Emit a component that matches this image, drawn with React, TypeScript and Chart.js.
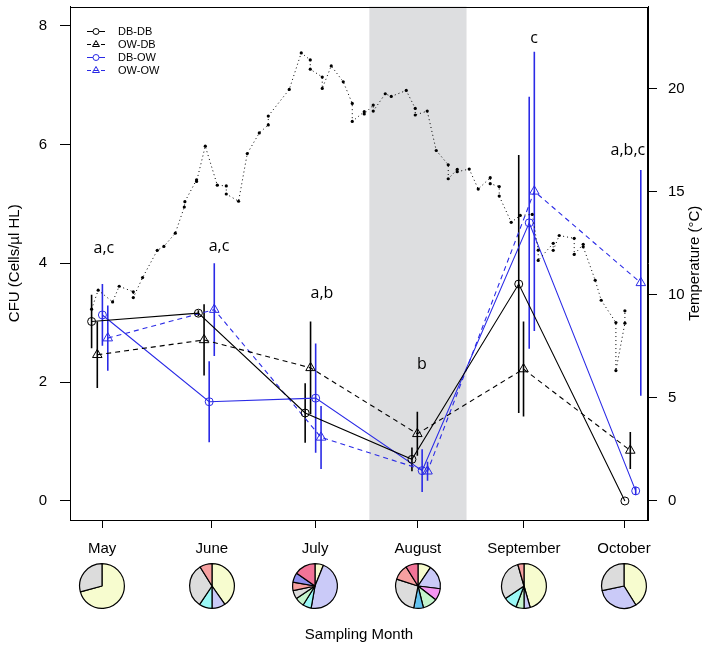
import React, { useEffect, useRef } from 'react';
import { Chart, registerables } from 'chart.js';
Chart.register(...registerables);

const FONT = "'Liberation Sans', Arial, Helvetica, sans-serif";

// x axis: sampling day (days from start of the axis)
const monthNames = ['May', 'June', 'July', 'August', 'September', 'October'];
const monthTicks = [10.7, 47.3, 81.7, 116.0, 151.3, 184.7];
const cfuTicks = [0, 2, 4, 6, 8];
const tempTicks = [0, 5, 10, 15, 20];
const shadeStart = 99.8;
const shadeEnd = 132.2;

// CFU series (Cells/µl HL)
const dbdbX = [7.2, 42.8, 78.4, 114.0, 149.6, 185.0];
const dbdbY = [3.02, 3.16, 1.48, 0.70, 3.65, 0.0];
const dbdbErr = [0.45, 0.05, 0.50, 0.20, 2.17, 0.0];

const owdbX = [9.1, 44.7, 80.2, 115.8, 151.2, 186.8];
const owdbY = [2.46, 2.71, 2.24, 1.13, 2.22, 0.85];
const owdbErr = [0.56, 0.60, 0.78, 0.37, 0.80, 0.31];

const dbowX = [10.8, 46.4, 81.9, 117.4, 153.1, 188.6];
const dbowY = [3.13, 1.67, 1.73, 0.51, 4.68, 0.17];
const dbowErr = [0.52, 0.68, 0.92, 0.36, 2.12, 0.07];

const owowX = [12.6, 48.1, 83.7, 119.2, 154.8, 190.3];
const owowY = [2.74, 3.22, 1.07, 0.50, 5.21, 3.67];
const owowErr = [0.55, 0.78, 0.53, 0.16, 2.35, 1.90];

// temperature (°C)
const tempDay = [7.2, 9.4, 14.2, 16.4, 21.1, 21.1, 24.2, 29.1, 31.3, 35.1, 38.1, 38.3, 42.2, 42.2, 45.1, 49.1, 52.1, 52.1, 56.2, 59.1, 63.1, 66.1, 66.1, 73.1, 77.1, 80.1, 80.1, 84.1, 84.1, 87.1, 91.1, 94.1, 94.1, 98.1, 98.1, 101.1, 101.1, 105.1, 107.1, 112.1, 115.1, 115.1, 119.1, 122.1, 126.1, 126.1, 129.1, 129.1, 133.1, 136.1, 140.1, 140.1, 143.1, 143.1, 147.1, 150.1, 154.1, 156.1, 156.1, 161.1, 161.1, 163.1, 168.1, 168.1, 171.1, 171.1, 175.1, 177.1, 182.0, 182.0, 185.0, 185.0];
const tempC = [9.30, 10.22, 9.65, 10.41, 10.14, 9.86, 10.83, 12.15, 12.34, 12.98, 14.25, 14.51, 15.57, 15.49, 17.2, 15.31, 15.27, 14.88, 14.53, 16.84, 17.84, 18.23, 18.66, 19.95, 21.72, 21.38, 20.93, 20.55, 20.0, 21.09, 20.32, 19.27, 18.4, 18.87, 18.76, 19.19, 18.9, 19.74, 19.61, 19.9, 19.03, 18.71, 18.9, 16.99, 16.3, 15.62, 16.07, 15.96, 16.09, 15.12, 15.67, 15.38, 15.24, 14.78, 13.51, 13.84, 13.89, 12.16, 11.66, 12.49, 12.15, 12.87, 12.73, 11.95, 12.44, 12.32, 10.7, 9.73, 8.65, 6.32, 8.62, 9.22];

// significance letters
const sigLabels = ['a,c', 'a,c', 'a,b', 'b', 'c', 'a,b,c'];
const sigX = [11.3, 49.7, 84.0, 117.3, 154.7, 186.0];
const sigY = [4.25, 4.29, 3.50, 2.29, 7.79, 5.90];

// community composition pies (slice sizes, clockwise from 12 o'clock)
const pieMayTaxa = ['yellow', 'gray'];
const pieMayVals = [255, 105];
const pieJunTaxa = ['yellow', 'lavender', 'cyan', 'gray', 'salmon'];
const pieJunVals = [145, 35, 34, 114, 32];
const pieJulTaxa = ['yellow', 'lavender', 'cyan', 'green', 'gray', 'salmon', 'violet', 'hotpink'];
const pieJulVals = [22, 168, 22, 24, 22, 22, 25, 55];
const pieAugTaxa = ['yellow', 'lavender', 'magenta', 'green', 'blue', 'gray', 'salmon', 'hotpink'];
const pieAugVals = [34, 63, 31, 38, 25, 97, 40, 32];
const pieSepTaxa = ['yellow', 'lavender', 'green', 'cyan', 'gray', 'salmon'];
const pieSepVals = [164, 16, 21, 35, 108, 16];
const pieOctTaxa = ['yellow', 'lavender', 'gray'];
const pieOctVals = [148, 110, 102];

const pieColors: Record<string, string> = {
  yellow: '#F7FCCF', gray: '#DCDCDC', lavender: '#CACAF8', cyan: '#9AF8F6', salmon: '#F6A0A0',
  hotpink: '#F27497', violet: '#8E8EEE', green: '#C4F4CC', magenta: '#F595F2', blue: '#62C2F0',
};

const BLACK = '#000000';
const BLUE = '#2A2AE6';

const pies = [
  [pieMayTaxa, pieMayVals], [pieJunTaxa, pieJunVals], [pieJulTaxa, pieJulVals],
  [pieAugTaxa, pieAugVals], [pieSepTaxa, pieSepVals], [pieOctTaxa, pieOctVals],
] as [string[], number[]][];

function pts(xs: number[], ys: number[]) {
  return xs.map((x, i) => ({ x, y: ys[i] }));
}
function errPts(xs: number[], ys: number[], es: number[]) {
  const out: any[] = [];
  xs.forEach((x, i) => {
    out.push({ x, y: ys[i] - es[i] });
    out.push({ x, y: ys[i] + es[i] });
    out.push({ x, y: null });
  });
  return out;
}

const legendItems = [
  { name: 'DB-DB', color: BLACK, dash: [] as number[], tri: false },
  { name: 'OW-DB', color: BLACK, dash: [4, 3], tri: true },
  { name: 'DB-OW', color: BLUE, dash: [] as number[], tri: false },
  { name: 'OW-OW', color: BLUE, dash: [4, 3], tri: true },
];

function drawTri(ctx: CanvasRenderingContext2D, x: number, y: number, r: number) {
  ctx.beginPath();
  for (let k = 0; k < 3; k++) {
    const a = -Math.PI / 2 + k * (2 * Math.PI / 3);
    const px = x + Math.cos(a) * r, py = y + Math.sin(a) * r;
    if (k === 0) ctx.moveTo(px, py); else ctx.lineTo(px, py);
  }
  ctx.closePath();
  ctx.stroke();
}

const decorPlugin = {
  id: 'decor',
  beforeDatasetsDraw(chart: any) {
    const { ctx, chartArea, scales } = chart;
    const x0 = scales.x.getPixelForValue(shadeStart);
    const x1 = scales.x.getPixelForValue(shadeEnd);
    ctx.save();
    ctx.fillStyle = '#DDDEE0';
    ctx.fillRect(x0, chartArea.top, x1 - x0, chartArea.bottom - chartArea.top);
    ctx.restore();
  },
  afterDatasetsDraw(chart: any) {
    const { ctx, scales } = chart;
    ctx.save();
    ctx.fillStyle = '#000';
    ctx.font = "16px 'Open Sans', 'DejaVu Sans', sans-serif";
    ctx.textAlign = 'center';
    ctx.textBaseline = 'middle';
    sigLabels.forEach((t, i) => {
      ctx.fillText(t, scales.x.getPixelForValue(sigX[i]), scales.y.getPixelForValue(sigY[i]));
    });
    ctx.restore();
  },
  afterDraw(chart: any) {
    const { ctx, chartArea } = chart;
    ctx.save();
    ctx.strokeStyle = '#000';
    ctx.lineWidth = 1;
    ctx.strokeRect(Math.round(chartArea.left) + 0.5, Math.round(chartArea.top) + 0.5,
      Math.round(chartArea.right - chartArea.left) - 1, Math.round(chartArea.bottom - chartArea.top) - 1);
    // legend
    legendItems.forEach((it, i) => {
      const y = chartArea.top + 25 + i * 13;
      const xa = chartArea.left + 17, xb = chartArea.left + 35, xm = (xa + xb) / 2;
      ctx.strokeStyle = it.color;
      ctx.lineWidth = 1;
      ctx.setLineDash(it.dash);
      ctx.beginPath(); ctx.moveTo(xa, y); ctx.lineTo(xb, y); ctx.stroke();
      ctx.setLineDash([]);
      ctx.fillStyle = '#fff';
      if (it.tri) {
        drawTri(ctx, xm, y, 4);
      } else {
        ctx.beginPath(); ctx.arc(xm, y, 3, 0, Math.PI * 2); ctx.fill(); ctx.stroke();
      }
      ctx.fillStyle = '#000';
      ctx.font = `11px ${FONT}`;
      ctx.textAlign = 'left';
      ctx.textBaseline = 'middle';
      ctx.fillText(it.name, chartArea.left + 48, y);
    });
    // right axis title (reads bottom to top)
    ctx.save();
    ctx.translate(695, (chartArea.top + chartArea.bottom) / 2);
    ctx.rotate(-Math.PI / 2);
    ctx.font = `15px ${FONT}`;
    ctx.fillStyle = '#000';
    ctx.textAlign = 'center';
    ctx.textBaseline = 'middle';
    ctx.fillText('Temperature (°C)', 0, 0);
    ctx.restore();
    ctx.restore();
  },
};

export default function App() {
  const mainRef = useRef<HTMLCanvasElement>(null);
  const pieRefs = useRef<(HTMLCanvasElement | null)[]>([]);

  useEffect(() => {
    const charts: Chart[] = [];
    const tickFont = { family: FONT, size: 15 };
    const main = new Chart(mainRef.current!, {
      type: 'line',
      data: {
        datasets: [
          { label: 'Temperature', yAxisID: 'y2', data: pts(tempDay, tempC), borderColor: '#000', borderWidth: 1, borderDash: [1, 3], pointRadius: 1.6, pointBackgroundColor: '#000', pointBorderWidth: 0, tension: 0 } as any,
          { label: 'DB-DB', data: pts(dbdbX, dbdbY), borderColor: BLACK, borderWidth: 1.1, pointStyle: 'circle', pointRadius: 4, pointBorderWidth: 1, pointBorderColor: BLACK, pointBackgroundColor: 'rgba(0,0,0,0)' },
          { label: 'OW-DB', data: pts(owdbX, owdbY), borderColor: BLACK, borderWidth: 1.1, borderDash: [5, 4], pointStyle: 'triangle', pointRadius: 5.5, pointBorderWidth: 1, pointBorderColor: BLACK, pointBackgroundColor: 'rgba(0,0,0,0)' },
          { label: 'DB-OW', data: pts(dbowX, dbowY), borderColor: BLUE, borderWidth: 1.1, pointStyle: 'circle', pointRadius: 4, pointBorderWidth: 1, pointBorderColor: BLUE, pointBackgroundColor: 'rgba(0,0,0,0)' },
          { label: 'OW-OW', data: pts(owowX, owowY), borderColor: BLUE, borderWidth: 1.1, borderDash: [5, 4], pointStyle: 'triangle', pointRadius: 5.5, pointBorderWidth: 1, pointBorderColor: BLUE, pointBackgroundColor: 'rgba(0,0,0,0)' },
          { label: 'DB-DB err', data: errPts(dbdbX, dbdbY, dbdbErr), borderColor: BLACK, borderWidth: 1.6, pointRadius: 0, spanGaps: false },
          { label: 'OW-DB err', data: errPts(owdbX, owdbY, owdbErr), borderColor: BLACK, borderWidth: 1.6, pointRadius: 0, spanGaps: false },
          { label: 'DB-OW err', data: errPts(dbowX, dbowY, dbowErr), borderColor: BLUE, borderWidth: 1.6, pointRadius: 0, spanGaps: false },
          { label: 'OW-OW err', data: errPts(owowX, owowY, owowErr), borderColor: BLUE, borderWidth: 1.6, pointRadius: 0, spanGaps: false },
        ],
      },
      options: {
        responsive: false,
        animation: false,
        layout: { padding: { top: 5, left: 0, right: 0, bottom: 0 } },
        plugins: { legend: { display: false }, tooltip: { enabled: false } },
        scales: {
          x: {
            type: 'linear', position: 'bottom', min: 0, max: 192.7,
            afterBuildTicks: (s: any) => { s.ticks = monthTicks.map((v) => ({ value: v })); },
            afterFit: (s: any) => { s.height = 133; s.paddingLeft = 0; s.paddingRight = 0; },
            ticks: { autoSkip: false, maxRotation: 0, padding: 12, color: '#000', font: tickFont, callback: (_v: any, i: number) => monthNames[i] },
            grid: { drawOnChartArea: false, drawTicks: true, tickLength: 8, color: '#000', lineWidth: 1 },
            border: { display: true, color: '#000', width: 1 },
            title: { display: true, text: 'Sampling Month', color: '#000', font: tickFont, padding: { top: 0, bottom: 9 } },
          },
          y: {
            type: 'linear', position: 'left', min: -0.32, max: 8.32,
            afterBuildTicks: (s: any) => { s.ticks = cfuTicks.map((v) => ({ value: v })); },
            afterFit: (s: any) => { s.width = 70; s.paddingTop = 0; s.paddingBottom = 0; },
            ticks: { padding: 13, color: '#000', font: tickFont, callback: (v: any) => String(v) },
            grid: { drawOnChartArea: false, drawTicks: true, tickLength: 10, color: '#000', lineWidth: 1 },
            border: { display: true, color: '#000', width: 1 },
            title: { display: true, text: 'CFU (Cells/µl HL)', color: '#000', font: tickFont, padding: { top: 6, bottom: 0 } },
          },
          y2: {
            type: 'linear', position: 'right', min: -0.922, max: 23.97,
            afterBuildTicks: (s: any) => { s.ticks = tempTicks.map((v) => ({ value: v })); },
            afterFit: (s: any) => { s.width = 66; s.paddingTop = 0; s.paddingBottom = 0; },
            ticks: { padding: 11, color: '#000', font: tickFont, callback: (v: any) => String(v) },
            grid: { drawOnChartArea: false, drawTicks: true, tickLength: 9, color: '#000', lineWidth: 1 },
            border: { display: true, color: '#000', width: 1 },
          },
        },
      } as any,
      plugins: [decorPlugin],
    });
    charts.push(main);

    const xs = main.scales.x;
    pies.forEach(([taxa, vals], i) => {
      const c = pieRefs.current[i];
      if (!c) return;
      const px = xs.getPixelForValue(monthTicks[i]);
      c.style.left = `${px - 25}px`;
      c.style.top = `${586 - 25}px`;
      charts.push(new Chart(c, {
        type: 'pie',
        data: {
          labels: taxa,
          datasets: [{ data: vals, backgroundColor: taxa.map((t) => pieColors[t]), borderColor: '#000', borderWidth: 1.2 }],
        },
        options: {
          responsive: false, animation: false,
          layout: { padding: 2 },
          plugins: { legend: { display: false }, tooltip: { enabled: false } },
        } as any,
      }));
    });

    return () => { charts.forEach((c) => c.destroy()); };
  }, []);

  return (
    <div style={{ position: 'absolute', left: 0, top: 0, width: 714, height: 653, background: '#fff' }}>
      <canvas ref={mainRef} width={714} height={653} style={{ position: 'absolute', left: 0, top: 0, display: 'block' }} />
      {pies.map((_, i) => (
        <canvas key={i} ref={(el) => { pieRefs.current[i] = el; }} width={50} height={50} style={{ position: 'absolute', left: 0, top: 561, display: 'block' }} />
      ))}
    </div>
  );
}
